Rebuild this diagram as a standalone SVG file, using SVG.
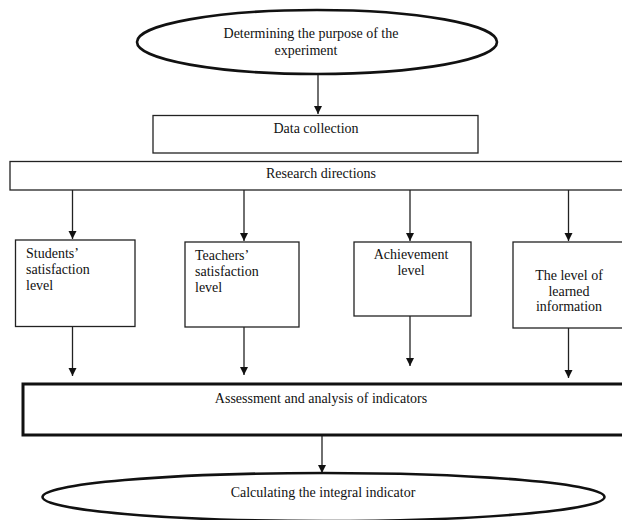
<svg xmlns="http://www.w3.org/2000/svg" width="622" height="520" viewBox="0 0 622 520">
<style>
text{font-family:"Liberation Serif","Times New Roman",serif;font-size:14px;fill:#111}
.c{text-anchor:middle}
.box{fill:#fff;stroke:#222;stroke-width:1.3}
.ell{fill:#fff;stroke:#111;stroke-width:2.6}
.thick{fill:#fff;stroke:#111;stroke-width:3}
.ln{stroke:#222;stroke-width:1.3;fill:none;marker-end:url(#ah)}
</style>
<defs>
<marker id="ah" viewBox="0 0 8 10" refX="8" refY="5" markerWidth="8" markerHeight="10" markerUnits="userSpaceOnUse" orient="auto">
<path d="M0,1 L8,5 L0,9 Z" fill="#111"/>
</marker>
</defs>
<rect width="622" height="520" fill="#fff"/>
<g id="connectors">
<line class="ln" x1="318" y1="74" x2="318" y2="114"/>
<line class="ln" x1="72.5" y1="190" x2="72.5" y2="239"/>
<line class="ln" x1="244" y1="190" x2="244" y2="241"/>
<line class="ln" x1="410" y1="190" x2="410" y2="241"/>
<line class="ln" x1="568.5" y1="190" x2="568.5" y2="241"/>
<line class="ln" x1="72.5" y1="327" x2="72.5" y2="376"/>
<line class="ln" x1="244" y1="327" x2="244" y2="375"/>
<line class="ln" x1="410" y1="316" x2="410" y2="366"/>
<line class="ln" x1="568.5" y1="328" x2="568.5" y2="378"/>
<line class="ln" x1="322" y1="436" x2="322" y2="473"/>
</g>
<g id="purpose">
<ellipse class="ell" cx="317" cy="42" rx="180" ry="32"/>
<text class="c" x="311" y="38">Determining the purpose of the</text>
<text class="c" x="306" y="55">experiment</text>
</g>
<g id="data">
<rect class="box" x="153" y="115.5" width="325" height="37.5"/>
<text class="c" x="316" y="133">Data collection</text>
</g>
<g id="research">
<rect class="box" x="10" y="161.5" width="618" height="28.5"/>
<text class="c" x="321" y="178">Research directions</text>
</g>
<g id="students">
<rect class="box" x="15.5" y="240" width="119.5" height="86.5"/>
<text x="26" y="258">Students’</text>
<text x="26" y="274">satisfaction</text>
<text x="26" y="290">level</text>
</g>
<g id="teachers">
<rect class="box" x="185" y="242" width="114" height="85"/>
<text x="195" y="260">Teachers’</text>
<text x="195" y="276">satisfaction</text>
<text x="195" y="292">level</text>
</g>
<g id="achievement">
<rect class="box" x="354" y="242" width="117" height="74"/>
<text class="c" x="411" y="259">Achievement</text>
<text class="c" x="411" y="275">level</text>
</g>
<g id="learned">
<rect class="box" x="513" y="242" width="115" height="86"/>
<text class="c" x="569" y="280">The level of</text>
<text class="c" x="569" y="296">learned</text>
<text class="c" x="569" y="311">information</text>
</g>
<g id="assessment">
<rect class="thick" x="23" y="384" width="605" height="51"/>
<text class="c" x="321" y="403">Assessment and analysis of indicators</text>
</g>
<g id="integral">
<ellipse class="ell" cx="323.5" cy="497" rx="281" ry="24"/>
<text class="c" x="323" y="497">Calculating the integral indicator</text>
</g>
</svg>
